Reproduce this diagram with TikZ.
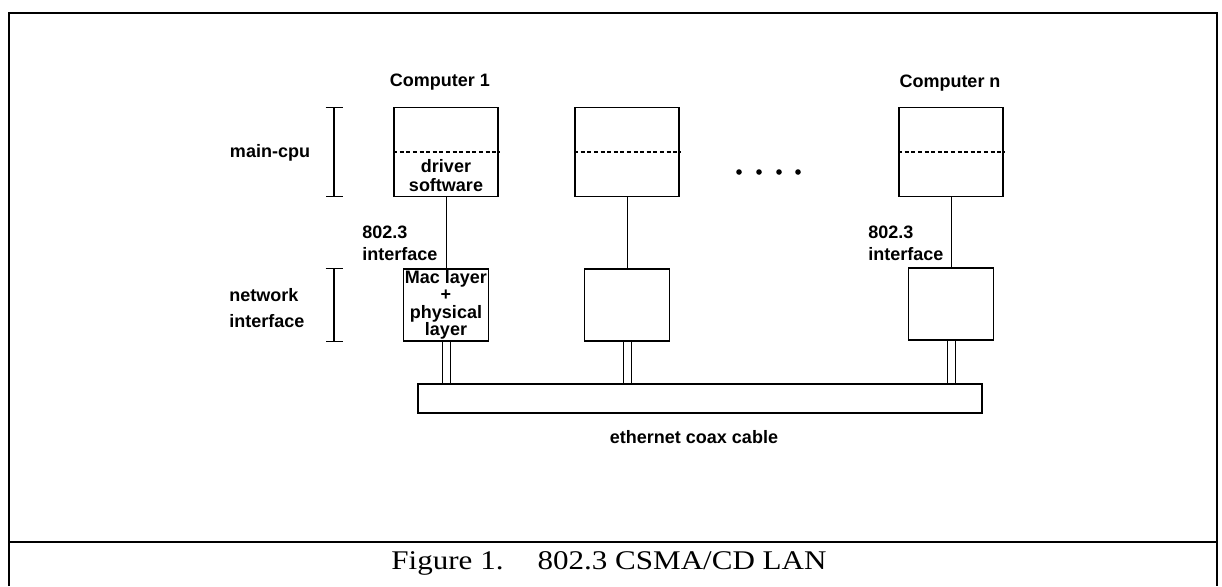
\documentclass[tikz,border=0pt]{standalone}
\usepackage{fontspec}
\setmainfont{Liberation Serif}
\setsansfont{Liberation Sans}
\newfontfamily\capfont[FakeStretch=1.15]{Liberation Serif}
\usetikzlibrary{positioning,arrows.meta,calc}

\tikzset{
  lbl/.style={font=\fontsize{9}{11}\selectfont\sffamily\bfseries, inner sep=0pt},
  cpubox/.style={draw, line width=0.9pt, minimum width=52pt, minimum height=44.5pt, inner sep=0pt},
  nicbox/.style={draw, line width=0.9pt, minimum width=42.5pt, minimum height=36pt, inner sep=0pt,
                 align=center, font=\fontsize{9}{8.7}\selectfont\sffamily\bfseries},
  span/.style={{Bar[width=8.5pt]}-{Bar[width=8.5pt]}, line width=0.6pt},
  wire/.style={line width=0.5pt},
}

\begin{document}
\begin{tikzpicture}[x=0.5pt, y=-0.5pt]
\useasboundingbox (0,0) rectangle (1222,586);

% Outer frame and caption panel
\draw[line width=1.4pt] (9,586) -- (9,13) -- (1217,13) -- (1217,586);
\draw[line width=1.4pt] (9,542) -- (1217,542);

% Hosts (main-cpu)
\node[cpubox] (comp1) at (446,152) {};
\node[cpubox] (comp2) at (627,152) {};
\node[cpubox] (compn) at (951,152) {};
\foreach \c in {comp1,comp2,compn}
  \draw[dash pattern=on 2pt off 1.3pt, line width=0.6pt] (\c.west) -- (\c.east);

% Network interfaces
\node[nicbox] (nic1) at (446,305) {Mac layer\\+\\physical\\layer};
\node[nicbox] (nic2) at (627,305) {};
\node[nicbox] (nicn) at (951,304) {};

% Coax cable
\node[draw, line width=0.9pt, minimum width=282pt, minimum height=14.5pt] (cable) at (700,398.5) {};

% Host to interface links
\foreach \c/\n in {comp1/nic1,comp2/nic2,compn/nicn}
  \draw[wire] (\c.south) -- (\n.north);

% Taps (double line) down to the cable
\foreach \n in {nic1,nic2,nicn}{
  \coordinate (tl) at ($(\n.south)+(-4,0)$);
  \coordinate (tr) at ($(\n.south)+(4,0)$);
  \draw[wire] (tl) -- (tl |- cable.north) (tr) -- (tr |- cable.north);
}

% Ellipsis between hosts
\foreach \x in {739,759,779,798}
  \fill (\x,172) circle (1.4pt);

% Layer brackets
\coordinate (bar) at (334,0);
\draw[span] (bar |- comp1.north) -- (bar |- comp1.south);
\draw[span] (bar |- nic1.north) -- (bar |- nic1.south);

% Labels
\node[lbl] (name1) at (440,82) {Computer 1};
\node[lbl] (namen) at (950,83) {Computer n};
\node[lbl, align=center, font=\fontsize{9}{9.5}\selectfont\sffamily\bfseries] (drv) at (446,176) {driver\\software};
\node[lbl, align=left, anchor=west] (if1) at (362,243) {802.3\\interface};
\node[lbl, align=left, anchor=west] (ifn) at (868,243) {802.3\\interface};
\node[lbl] (cpu) at (270,153) {main-cpu};
\node[lbl, align=left, anchor=west, font=\fontsize{9}{13}\selectfont\sffamily\bfseries] (net) at (229,308) {network\\interface};
\node[lbl] (coax) at (694,437) {ethernet coax cable};

% Caption
\node[font=\capfont\fontsize{13.5}{15}\selectfont, inner sep=0pt] (cap) at (609,563) {Figure 1.\hspace{17pt}802.3 CSMA/CD LAN};

\end{tikzpicture}
\end{document}
